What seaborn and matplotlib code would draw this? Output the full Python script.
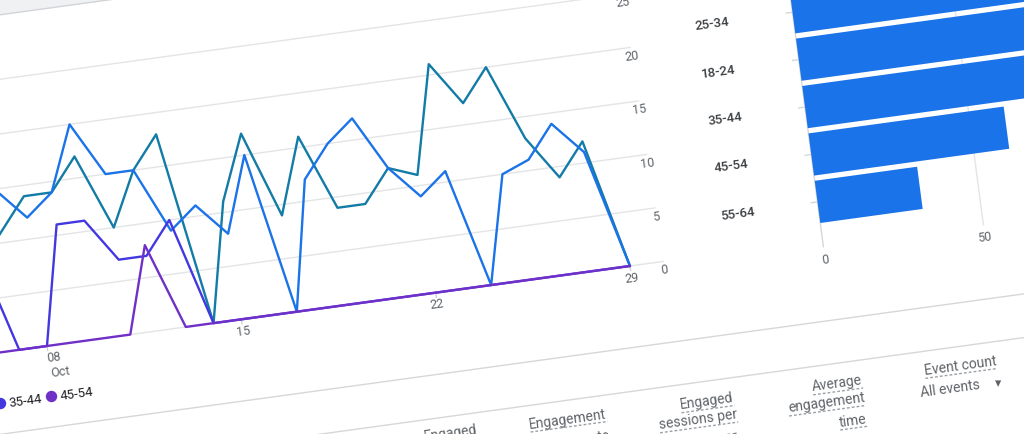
import numpy as np
import pandas as pd
import matplotlib
matplotlib.use("Agg")
import matplotlib.pyplot as plt
from matplotlib.transforms import Affine2D
import seaborn as sns

# --- data ---
days = list(range(5, 30))  # October
users_25_34 = [10, 8, 11, 14, 14, 17, 10, 15, 18, 0, 11, 17, 9, 16, 9, 9, 12, 11, 21, 17, 20, 13, 9, 12, 0]
users_18_24 = [12, 13, 15, 12, 14, 20, 15, 15, 9, 11, 8, 15, 0, 12, 15, 17, 12, 9, 11, 0, 10, 11, 14, 11, 0]
users_35_44 = [8, 10, 0, 0, 11, 11, 7, 7, 10, 0, 0, 0, 0, 0, 0, 0, 0, 0, 0, 0, 0, 0, 0, 0, 0]
users_45_54 = [0, 0, 0, 0, 0, 0, 0, 8, 0, 0, 0, 0, 0, 0, 0, 0, 0, 0, 0, 0, 0, 0, 0, 0, 0]

y_ticks = [0, 5, 10, 15, 20, 25]
x_ticks = [8, 15, 22, 29]
x_tick_labels = ["08", "15", "22", "29"]

age_groups = ["25-34", "18-24", "35-44", "45-54", "55-64"]
age_users = [98, 86, 74, 61, 32]
bar_ticks = [0, 50]

colors = {"25-34": "#127ba6", "18-24": "#1a73e8", "35-44": "#4338e0", "45-54": "#7030c8"}

GRID = "#e3e4e6"
TXT = "#5f6368"
DARK = "#3c4043"
ANG = 7.8
FONT = "Roboto"

sns.set_theme(style="white")
plt.rcParams["font.family"] = [FONT, "DejaVu Sans"]

fig = plt.figure(figsize=(10.24, 4.35), dpi=100)
ax = fig.add_axes([0, 0, 1, 1])
axb = fig.add_axes([0, 0, 1, 1])

# tilted screenshot: map chart coordinates to pixel coordinates
line_tr = Affine2D.from_values(27.76, -3.81, -1.65, -10.7, -175.08, 377.48) + ax.transData
bar_tr = Affine2D.from_values(3.2, -0.44, 6.25, 47.4, 792.5, 13.3) + ax.transData
bar_tr_b = Affine2D.from_values(3.2, -0.44, 6.25, 47.4, 792.5, 13.3) + axb.transData

# card header band
ax.fill([0, 30, 30, 0], [30.9, 30.9, 50, 50], transform=line_tr, color="#eff1f3", lw=0, zorder=0)
ax.plot([0, 30], [30.9, 30.9], transform=line_tr, color="#d2d4d8", lw=1, zorder=0)

# gridlines + y labels
for v in y_ticks:
    ax.plot([0, 30.2], [v, v], transform=line_tr, color=GRID, lw=1, zorder=1)
    ax.text(30.2, v - 0.72, str(v), transform=line_tr, ha="center", va="center",
            rotation=ANG, rotation_mode="anchor", fontsize=9, color=TXT)

for d, lab in zip(x_ticks, x_tick_labels):
    ax.plot([d, d], [0, -0.45], transform=line_tr, color="#d0d2d5", lw=1)
    dx = 0.2 if lab == "08" else 0.0
    ax.text(d + dx, -1.05, lab, transform=line_tr, ha="center", va="center",
            rotation=ANG, rotation_mode="anchor", fontsize=9, color=TXT)
ax.text(8.32, -2.45, "Oct", transform=line_tr, ha="center", va="center",
        rotation=ANG, rotation_mode="anchor", fontsize=9, color=TXT)

df = pd.DataFrame({
    "day": days * 4,
    "users": users_25_34 + users_18_24 + users_35_44 + users_45_54,
    "age": ["25-34"] * len(days) + ["18-24"] * len(days) + ["35-44"] * len(days) + ["45-54"] * len(days),
})
sns.lineplot(data=df, x="day", y="users", hue="age", hue_order=list(colors), palette=colors,
             errorbar=None, legend=False, linewidth=1.7, ax=ax, transform=line_tr, zorder=3)

# legend (partially cut off at the left)
for d, lab in [(6.02, "35-44"), (7.86, "45-54")]:
    ax.plot([d], [-4.62], "o", ms=7.2, color=colors[lab], transform=line_tr, zorder=3)
    ax.text(d + 0.33, -4.66, lab, transform=line_tr, ha="left", va="center",
            rotation=ANG, rotation_mode="anchor", fontsize=9.5, color="#202124")

# table separators
for v in [-7.5, -11.5]:
    ax.plot([0, 45], [v, v], transform=line_tr, color="#d5d7da", lw=1)

# --- bar chart ---
ax.plot([0, 0], [-1.2, 4.95], transform=bar_tr, color="#d5d7da", lw=1)
ax.plot([50, 50], [-1.2, 4.95], transform=bar_tr, color=GRID, lw=1)
for k in range(len(age_groups)):
    ax.plot([-2, 0], [k, k], transform=bar_tr, color="#d5d7da", lw=1)
for u in bar_ticks:
    ax.text(u, 5.2, str(u), transform=bar_tr, ha="center", va="center",
            rotation=ANG, rotation_mode="anchor", fontsize=9, color=TXT)
for k, lab in enumerate(age_groups):
    ax.text(-25, k, lab, transform=bar_tr, ha="center", va="center", rotation=ANG,
            rotation_mode="anchor", fontsize=9.5, color=DARK, fontweight="medium")

sns.barplot(x=age_users, y=age_groups, orient="h", color="#1a73e8", saturation=1,
            width=0.89, errorbar=None, linewidth=0, ax=axb, transform=bar_tr_b)

# --- table headers ---
renderer = fig.canvas.get_renderer()
th = np.deg2rad(ANG)
along = np.array([np.cos(th), -np.sin(th)])
down = np.array([np.sin(th), np.cos(th)])
headers = [
    ("Event count", 960.3, 366.0, True),
    ("All events", 950.3, 389.3, False),
    ("Average", 837.0, 384.0, True),
    ("engagement", 826.3, 403.3, True),
    ("time", 852.7, 420.7, True),
    ("Engaged", 707.0, 401.7, True),
    ("sessions per", 698.0, 420.0, True),
    ("user", 724.0, 438.0, True),
    ("Engagement", 568.0, 419.3, True),
    ("rate", 597.5, 437.5, True),
    ("Engaged", 451.0, 433.0, True),
]
for s, cx, cy, under in headers:
    t = ax.text(cx, cy, s, ha="center", va="center", rotation=ANG, rotation_mode="anchor",
                fontsize=10, color=TXT)
    if under:
        tmp = ax.text(0, 0, s, fontsize=10)
        w = tmp.get_window_extent(renderer=renderer).width
        tmp.remove()
        c = np.array([cx, cy]) + down * 8.5
        p0 = c - along * w / 2
        p1 = c + along * w / 2
        ax.plot([p0[0], p1[0]], [p0[1], p1[1]], color="#9aa0a6", lw=1, dashes=(2, 1.5))
ax.text(998, 384, "\u25be", ha="center", va="center", fontsize=9, color=TXT,
        family=["DejaVu Sans"])

for a in (ax, axb):
    a.set_xlim(0, 1024)
    a.set_ylim(435, 0)
    a.axis("off")
axb.patch.set_alpha(0)

fig.savefig("out.png", dpi=100, facecolor="white")
